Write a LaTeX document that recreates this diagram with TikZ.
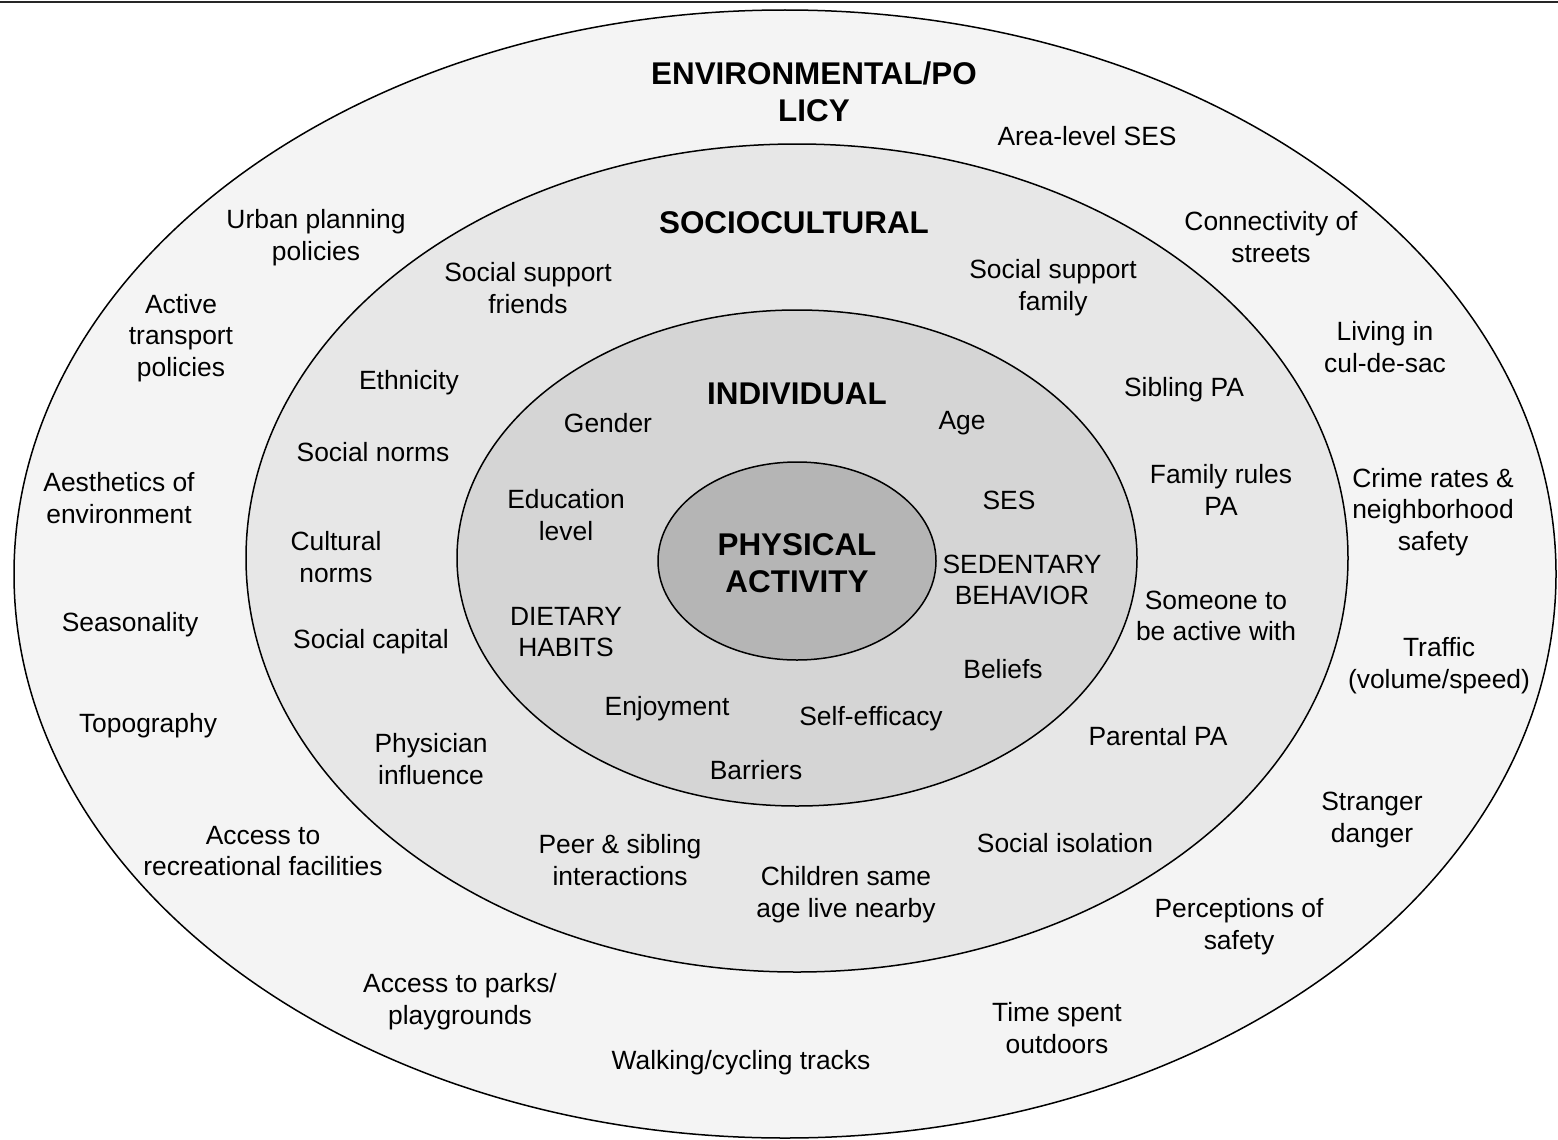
\documentclass[tikz,border=0pt]{standalone}
\usepackage{fontspec}
\setmainfont{Liberation Sans}
\usepackage{tikz}
\usetikzlibrary{shapes.geometric}

\definecolor{envfill}{gray}{0.957}
\definecolor{socfill}{gray}{0.905}
\definecolor{indfill}{gray}{0.835}
\definecolor{pafill}{gray}{0.71}

\begin{document}
\begin{tikzpicture}[
  x=1pt,y=-1pt,
  ring/.style={ellipse,draw,line width=1.5pt,inner sep=0pt},
  lbl/.style={font=\fontsize{26.4}{31.8}\selectfont,align=center,inner sep=0pt,yshift=-3pt},
  ttl/.style={font=\fontsize{31.4}{37}\selectfont\bfseries,align=center,inner sep=0pt,yshift=-2pt}]

\useasboundingbox (0,0) rectangle (1558,1140);

% --- rule along the top edge ---
\coordinate (tl) at (0,2);
\coordinate (tr) at (1558,2);
\draw[line width=2pt,black!85] (tl) -- (tr);

% --- nested rings, outer to inner ---
\node[ring,fill=envfill,minimum width=1542pt,minimum height=1128pt] (env) at (785,574) {};
\node[ring,fill=socfill,minimum width=1102pt,minimum height=828pt]  (soc) at (797,558) {};
\node[ring,fill=indfill,minimum width=680pt,minimum height=496pt]   (ind) at (797,558) {};
\node[ring,fill=pafill,minimum width=278pt,minimum height=198pt]    (pa)  at (797,561) {};

% --- environmental/policy ring ---
\node[ttl] (envt) at (814,90) {ENVIRONMENTAL/PO\\LICY};
\node[lbl] (areases) at (1087,133) {Area-level SES};
\node[lbl] (urban)   at (316,235)  {Urban planning\\policies};
\node[lbl] (connect) at (1271,234) {Connectivity of\\streets};
\node[lbl] (active)  at (181,335)  {Active\\transport\\policies};
\node[lbl] (culsac)  at (1385,344) {Living in\\cul-de-sac};
\node[lbl] (aesth)   at (119,495)  {Aesthetics of\\environment};
\node[lbl] (crime)   at (1433,509) {Crime rates \&\\neighborhood\\safety};
\node[lbl] (season)  at (130,622)  {Seasonality};
\node[lbl] (traffic) at (1439,663) {Traffic\\(volume/speed)};
\node[lbl] (topo)    at (148,723)  {Topography};
\node[lbl] (danger)  at (1372,817) {Stranger\\danger};
\node[lbl] (recfac)  at (263,848)  {Access to\\recreational facilities};
\node[lbl] (percep)  at (1239,924) {Perceptions of\\safety};
\node[lbl] (parks)   at (460,999)  {Access to parks/\\playgrounds};
\node[lbl] (outdoor) at (1057,1025) {Time spent\\outdoors};
\node[lbl] (tracks)  at (741,1060) {Walking/cycling tracks};

% --- sociocultural ring ---
\node[ttl] (soct) at (794,221) {SOCIOCULTURAL};
\node[lbl] (friends) at (528,285)  {Social support\\friends};
\node[lbl] (family)  at (1053,285) {Social support\\family};
\node[lbl] (ethnic)  at (409,380)  {Ethnicity};
\node[lbl] (sibpa)   at (1184,387) {Sibling PA};
\node[lbl] (socnorm) at (373,449)  {Social norms};
\node[lbl] (rules)   at (1221,487) {Family rules\\PA};
\node[lbl] (culnorm) at (336,554)  {Cultural\\norms};
\node[lbl] (someone) at (1216,613) {Someone to\\be active with};
\node[lbl] (capital) at (371,639)  {Social capital};
\node[lbl] (parpa)   at (1158,733) {Parental PA};
\node[lbl] (physic)  at (431,756)  {Physician\\influence};
\node[lbl] (isolat)  at (1065,840) {Social isolation};
\node[lbl] (peer)    at (620,857)  {Peer \& sibling\\interactions};
\node[lbl] (nearby)  at (846,892)  {Children same\\age live nearby};

% --- individual ring ---
\node[ttl] (indt) at (797,392) {INDIVIDUAL};
\node[lbl] (gender)  at (608,420)  {Gender};
\node[lbl] (age)     at (962,420)  {Age};
\node[lbl] (educ)    at (566,512)  {Education\\level};
\node[lbl] (ses)     at (1009,497) {SES};
\node[lbl] (sedent)  at (1022,577) {SEDENTARY\\BEHAVIOR};
\node[lbl] (diet)    at (566,629)  {DIETARY\\HABITS};
\node[lbl] (belief)  at (1003,666) {Beliefs};
\node[lbl] (enjoy)   at (667,706)  {Enjoyment};
\node[lbl] (selfeff) at (871,716)  {Self-efficacy};
\node[lbl] (barrier) at (756,767)  {Barriers};

% --- core ---
\node[ttl] (pat) at (pa) {PHYSICAL\\ACTIVITY};
\end{tikzpicture}
\end{document}
